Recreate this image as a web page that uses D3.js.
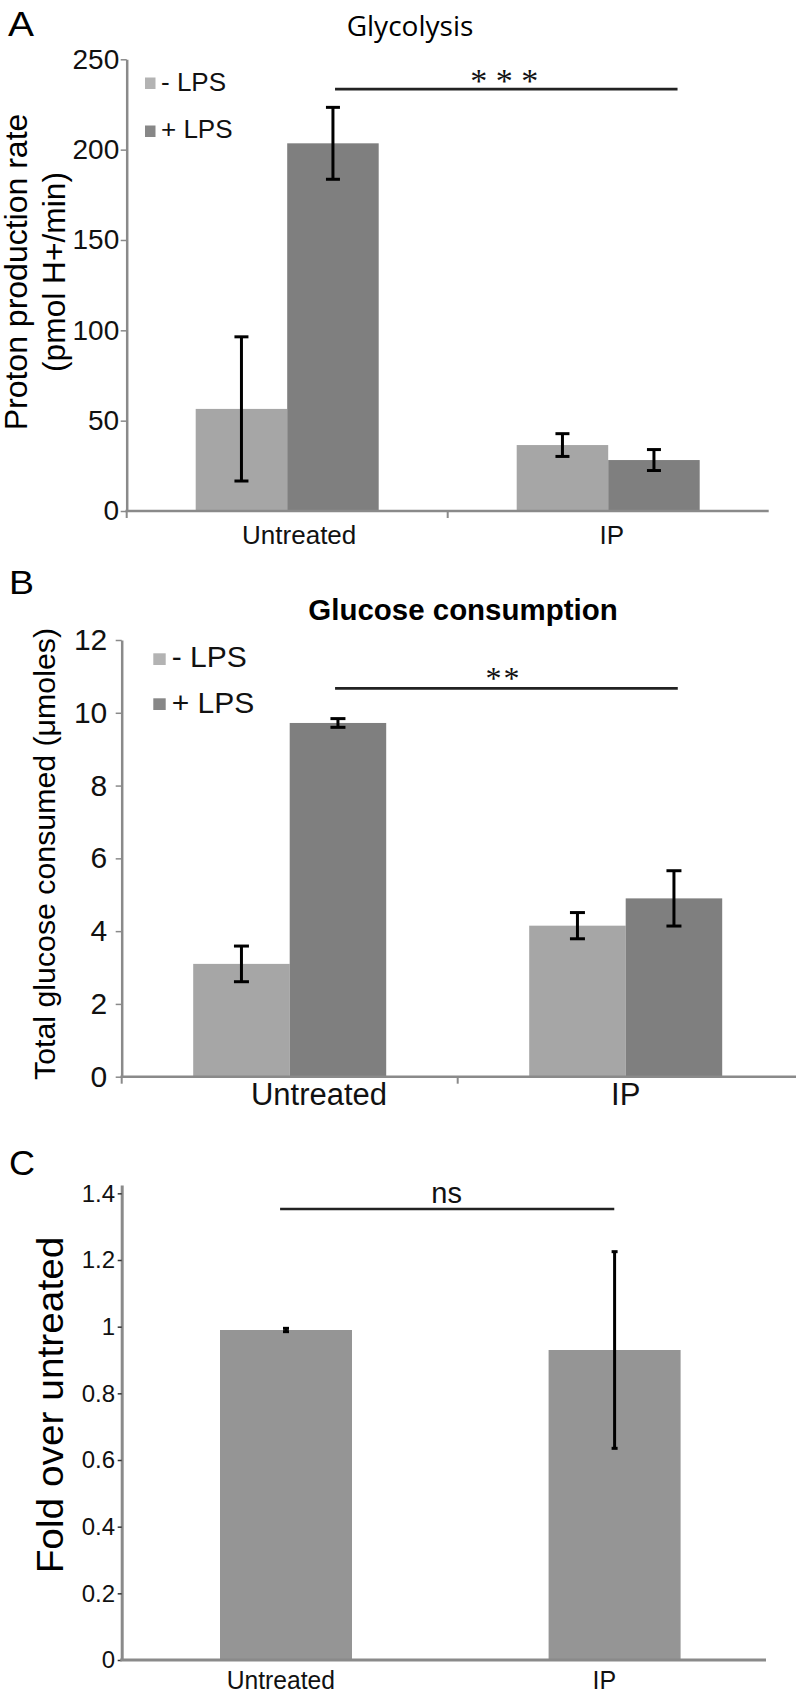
<!DOCTYPE html>
<html><head><meta charset="utf-8">
<script src="https://cdn.jsdelivr.net/npm/d3@7"></script>
<style>html,body{margin:0;padding:0;background:#fff}svg{display:block}</style>
</head><body>
<svg id="chart" width="796" height="1699"></svg>
<script>
// ---------- DATA ----------
const categories = ["Untreated", "IP"];
const seriesNames = ["- LPS", "+ LPS"];

// Panel A: Glycolysis (proton production rate, pmol H+/min)
const glycMinus    = [56.5, 36.5];
const glycMinusErr = [39.9, 6.3];
const glycPlus     = [203.5, 28.2];
const glycPlusErr  = [19.9, 5.8];
const glycTicks    = [0, 50, 100, 150, 200, 250];

// Panel B: Glucose consumption (µmoles)
const glucMinus    = [3.10, 4.15];
const glucMinusErr = [0.49, 0.36];
const glucPlus     = [9.72, 4.90];
const glucPlusErr  = [0.12, 0.76];
const glucTicks    = [0, 2, 4, 6, 8, 10, 12];

// Panel C: Fold over untreated
const foldValues = [0.99, 0.93];
const foldErr    = [0.005, 0.295];
const foldTicks  = [0, 0.2, 0.4, 0.6, 0.8, 1, 1.2, 1.4];

// Significance annotations (value = y position in data units, from/to in category units)
const sigA = {label: "***", from: 0.649, to: 1.716, value: 233.5};
const sigB = {label: "**",  from: 0.635, to: 1.655, value: 10.67};
const sigC = {label: "ns",  from: 0.482, to: 1.499, value: 1.353};

// ---------- STYLE ----------
const SANS = "'Liberation Sans', Arial, Helvetica, sans-serif";
const LIGHT = "#a6a6a6", DARK = "#7f7f7f", MID = "#959595", AXIS = "#8a8a8a";
const svg = d3.select("#chart");

function drawPanel(p) {
  const g = svg.append("g");
  const x = d3.scaleBand().domain(categories)
    .range([p.left, p.left + categories.length * p.catW]).padding(0);
  const xLin = d3.scaleLinear().domain([0, categories.length]).range(x.range());
  const y = d3.scaleLinear().domain(p.yDomain).range([p.y0, p.yTop]);
  const nS = p.series.length;
  const xs = d3.scaleBand().domain(p.series.map(s => s.name))
    .range([-nS * p.barW / 2, nS * p.barW / 2]).padding(0);

  // bars
  p.series.forEach(s => {
    g.append("g").selectAll("rect").data(categories).join("rect")
      .attr("x", c => x(c) + x.bandwidth() / 2 + xs(s.name))
      .attr("y", (c, i) => y(s.values[i]))
      .attr("width", xs.bandwidth())
      .attr("height", (c, i) => y(0) - y(s.values[i]))
      .attr("fill", s.color);
  });
  // error bars
  p.series.forEach(s => {
    const eg = g.append("g").attr("stroke", "#000").attr("stroke-width", p.errW).attr("fill", "none");
    categories.forEach((c, i) => {
      const cx = x(c) + x.bandwidth() / 2 + xs(s.name) + xs.bandwidth() / 2;
      const lo = y(s.values[i] - s.err[i]), hi = y(s.values[i] + s.err[i]);
      eg.append("line").attr("x1", cx).attr("x2", cx).attr("y1", lo).attr("y2", hi);
      eg.append("line").attr("x1", cx - p.capW / 2).attr("x2", cx + p.capW / 2).attr("y1", lo).attr("y2", lo);
      eg.append("line").attr("x1", cx - p.capW / 2).attr("x2", cx + p.capW / 2).attr("y1", hi).attr("y2", hi);
    });
  });

  // y axis
  const ya = d3.axisLeft(y).tickValues(p.ticks).tickSize(p.tickSize).tickSizeOuter(0)
    .tickPadding(p.tickPad).tickFormat(p.fmt);
  const yg = g.append("g").attr("transform", `translate(${p.left},0)`).call(ya);
  yg.select(".domain").attr("stroke", AXIS).attr("stroke-width", p.axisW);
  yg.selectAll(".tick line").attr("stroke", p.tickColor).attr("stroke-width", 1.5);
  yg.selectAll(".tick text").attr("font-family", SANS).attr("font-size", p.tickFont)
    .attr("fill", "#111");

  // x axis line & ticks
  g.append("line").attr("x1", p.left - p.axisW / 2).attr("x2", p.axisEnd)
    .attr("y1", y(0)).attr("y2", y(0)).attr("stroke", AXIS).attr("stroke-width", p.axisW);
  p.xTicks.forEach(i => {
    g.append("line").attr("x1", xLin(i)).attr("x2", xLin(i))
      .attr("y1", y(0)).attr("y2", y(0) + 7).attr("stroke", AXIS).attr("stroke-width", 2);
  });
  // x labels
  categories.forEach((c, i) => {
    const t = g.append("text").attr("x", x(c) + x.bandwidth() / 2 + p.xLabelDx[i])
      .attr("y", p.xLabelY).attr("text-anchor", "middle")
      .attr("font-family", SANS).attr("font-size", p.xLabelFont).attr("fill", "#111").text(c);
    if (p.xLabelLen && p.xLabelLen[i]) t.attr("textLength", p.xLabelLen[i]).attr("lengthAdjust", "spacingAndGlyphs");
  });

  // legend
  if (p.legend) {
    p.series.forEach((s, i) => {
      g.append("rect").attr("x", p.legend.x).attr("y", p.legend.y[i])
        .attr("width", p.legend.w).attr("height", p.legend.h).attr("fill", s.legendColor);
      g.append("text").attr("x", p.legend.tx).attr("y", p.legend.ty[i])
        .attr("font-family", SANS).attr("font-size", p.legend.size).attr("fill", "#111").text(s.name);
    });
  }

  // significance bar
  const sg = p.sig;
  g.append("line").attr("x1", xLin(sg.d.from)).attr("x2", xLin(sg.d.to))
    .attr("y1", y(sg.d.value)).attr("y2", y(sg.d.value))
    .attr("stroke", "#222").attr("stroke-width", 2.6);
  const st = g.append("text").attr("x", xLin((sg.d.from + sg.d.to) / 2) + sg.dx)
    .attr("y", y(sg.d.value) + sg.dy).attr("text-anchor", "middle")
    .attr("font-family", sg.font).attr("font-size", sg.size).attr("fill", "#111").text(sg.d.label);
  if (sg.len) st.attr("textLength", sg.len).attr("lengthAdjust", "spacing");

  // title
  if (p.title) {
    const tt = g.append("text").attr("x", p.title.x).attr("y", p.title.y).attr("text-anchor", "middle")
      .attr("font-family", p.title.font).attr("font-size", p.title.size)
      .attr("font-weight", p.title.weight).attr("fill", "#000").text(p.title.text);
    if (p.title.len) tt.attr("textLength", p.title.len).attr("lengthAdjust", "spacingAndGlyphs");
  }
  // y title
  p.yTitle.forEach(l => {
    g.append("text").attr("transform", `translate(${l.x},${p.yTitleCY}) rotate(-90)`)
      .attr("text-anchor", "middle").attr("font-family", SANS).attr("font-size", p.yTitleSize)
      .attr("fill", "#000").attr("textLength", l.len).attr("lengthAdjust", "spacingAndGlyphs").text(l.text);
  });
  // panel letter
  g.append("text").attr("x", p.letter.x).attr("y", p.letter.y).attr("font-family", SANS)
    .attr("font-size", p.letter.size).attr("fill", "#000")
    .attr("textLength", p.letter.len).attr("lengthAdjust", "spacingAndGlyphs").text(p.letter.text);
}

// ---------- PANEL A ----------
drawPanel({
  left: 126.7, catW: 321, y0: 511, yTop: 59.3, yDomain: [0, 250],
  ticks: glycTicks, fmt: d3.format("d"), tickSize: 6, tickPad: 1.5, tickFont: 28, tickColor: AXIS,
  axisW: 2.5, axisEnd: 768.7, xTicks: [0, 1],
  barW: 91.5, errW: 3, capW: 14,
  series: [
    {name: seriesNames[0], values: glycMinus, err: glycMinusErr, color: LIGHT, legendColor: "#b3b3b3"},
    {name: seriesNames[1], values: glycPlus,  err: glycPlusErr,  color: DARK,  legendColor: "#878787"}
  ],
  xLabelDx: [12, 3.5], xLabelY: 544, xLabelFont: 26,
  legend: {x: 145, y: [77.5, 125.5], w: 10.5, h: 11.5, tx: 161, ty: [91, 138.3], size: 26},
  sig: {d: sigA, dx: -2, dy: 2.5, font: "'Liberation Serif', 'Times New Roman', serif", size: 34, len: 68},
  title: {text: "Glycolysis", x: 410, y: 35.7, font: "'Open Sans', 'Noto Sans', sans-serif", size: 28, weight: 400, len: 126.7},
  yTitle: [{text: "Proton production rate", x: 26.7, len: 316.7}, {text: "(pmol H+/min)", x: 64.8, len: 200}],
  yTitleCY: 272, yTitleSize: 31,
  letter: {text: "A", x: 8, y: 35.5, size: 35, len: 26}
});

// ---------- PANEL B ----------
drawPanel({
  left: 121.7, catW: 336, y0: 1076.7, yTop: 640, yDomain: [0, 12],
  ticks: glucTicks, fmt: d3.format("d"), tickSize: 6, tickPad: 8.4, tickFont: 30, tickColor: AXIS,
  axisW: 2.5, axisEnd: 796, xTicks: [0, 1],
  barW: 96.5, errW: 3, capW: 15,
  series: [
    {name: seriesNames[0], values: glucMinus, err: glucMinusErr, color: LIGHT, legendColor: "#b3b3b3"},
    {name: seriesNames[1], values: glucPlus,  err: glucPlusErr,  color: DARK,  legendColor: "#878787"}
  ],
  xLabelDx: [29.3, 0], xLabelY: 1105, xLabelFont: 31,
  legend: {x: 153.3, y: [653.3, 698.3], w: 12.4, h: 11.7, tx: 171.7, ty: [666.7, 713.3], size: 30},
  sig: {d: sigB, dx: -4, dy: 0.7, font: "'Liberation Serif', 'Times New Roman', serif", size: 32, len: 34},
  title: {text: "Glucose consumption", x: 463, y: 620, font: SANS, size: 29, weight: 700, len: 309.4},
  yTitle: [{text: "Total glucose consumed (\u03bcmoles)", x: 54.5, len: 452}],
  yTitleCY: 854, yTitleSize: 29,
  letter: {text: "B", x: 9, y: 593.5, size: 33, len: 25}
});

// ---------- PANEL C ----------
drawPanel({
  left: 121.7, catW: 328.6, y0: 1660, yTop: 1185, yDomain: [0, 1.425],
  ticks: foldTicks, fmt: d3.format("~g"), tickSize: 4, tickPad: 2.7, tickFont: 24, tickColor: "#333",
  axisW: 3, axisEnd: 766, xTicks: [],
  barW: 132, errW: 3, capW: 6,
  series: [
    {name: "fold", values: foldValues, err: foldErr, color: MID, legendColor: MID}
  ],
  xLabelDx: [-5.2, -10.3], xLabelY: 1689, xLabelFont: 25, xLabelLen: [108.3, null],
  legend: null,
  sig: {d: sigC, dx: -0.5, dy: -6, font: SANS, size: 29, len: null},
  title: null,
  yTitle: [{text: "Fold over untreated", x: 63.3, len: 336.7}],
  yTitleCY: 1405, yTitleSize: 36,
  letter: {text: "C", x: 9, y: 1175, size: 35, len: 26}
});
</script>
</body></html>
